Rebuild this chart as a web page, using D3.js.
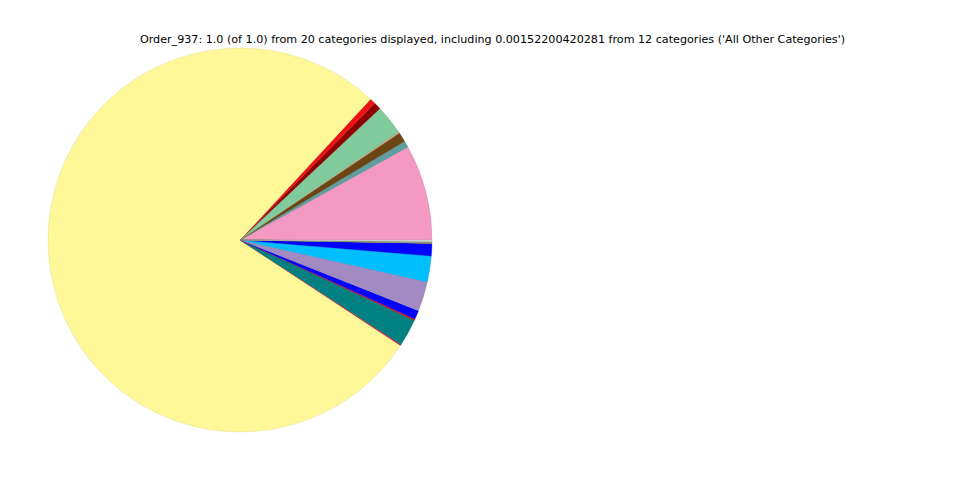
<!DOCTYPE html>
<html><head><meta charset="utf-8">
<script src="https://cdn.jsdelivr.net/npm/d3@7"></script>
<style>body{margin:0;background:#fff}svg{display:block}</style>
</head><body>
<script>
const titleText = "Order_937: 1.0 (of 1.0) from 20 categories displayed, including 0.00152200420281 from 12 categories ('All Other Categories')";
const categories = ["c1","c2","c3","c4","c5","c6","c7","c8","c9","c10","c11","c12","c13","c14","c15","c16","c17","c18","c19","All Other Categories"];
const values = [0.0805,0.0055,0.008,0.001,0.025,0.006,0.005,0.776,0.001,0.023,0.001,0.0075,0.025,0.0217,0.0105,0.0004,0.0003,0.0003,0.0003,0.00152];
const colors = ["#F49AC2","#5F9EA0","#6B4513","#E9967A","#80CA9C","#8B0000","#EE1111","#FFF899","#DC143C","#008080","#FF0000","#0000FF","#A28AC2","#00BFFF","#0000FF","#DAA520","#A9A9A9","#B0C4DE","#6B8E23","#D3D3D3"];

const W = 960, H = 480;
const svg = d3.select("body").append("svg").attr("width", W).attr("height", H);
svg.append("text").attr("x", 492.5).attr("y", 43).attr("text-anchor", "middle")
  .attr("font-family", "DejaVu Sans").attr("font-size", 11.15).attr("fill", "#000").text(titleText);

const data = categories.map((c, i) => ({cat: c, v: values[i], col: colors[i]}));
const pie = d3.pie().sort(null).value(d => d.v).startAngle(Math.PI / 2).endAngle(Math.PI / 2 - 2 * Math.PI);
const arc = d3.arc().innerRadius(0).outerRadius(192);
const g = svg.append("g").attr("transform", "translate(240,240)");
g.selectAll("path").data(pie(data)).join("path")
  .attr("d", arc).attr("fill", d => d.data.col)
  .attr("stroke", d => d3.color(d.data.col).darker(0.6)).attr("stroke-width", 0.3);
</script>
</body></html>
